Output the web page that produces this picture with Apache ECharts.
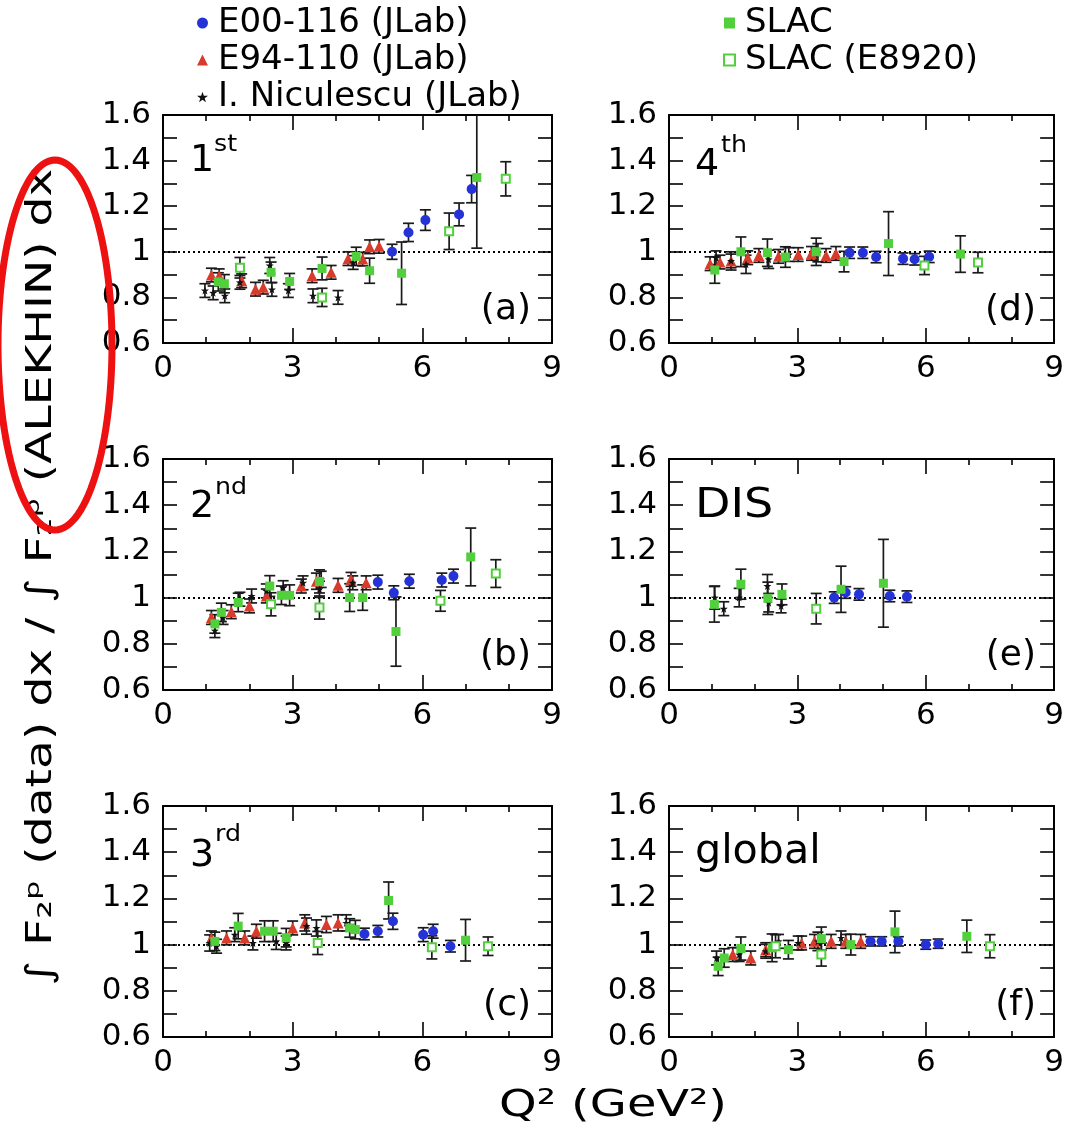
<!DOCTYPE html>
<html><head><meta charset="utf-8">
<script src="https://cdn.jsdelivr.net/npm/echarts@6/dist/echarts.min.js"></script>
<style>html,body{margin:0;padding:0;background:#fff}#c{width:1067px;height:1136px}</style>
</head><body><div id="c"></div>
<script>
// ---- tick labels / names ----
const xTicks = [0, 3, 6, 9];
const yTicks = [0.6, 0.8, 1, 1.2, 1.4, 1.6];
const setNames = ['E00-116 (JLab)', 'E94-110 (JLab)', 'I. Niculescu (JLab)', 'SLAC', 'SLAC (E8920)'];
const panelTitles = [['1', 'st'], ['2', 'nd'], ['3', 'rd'], ['4', 'th'], ['DIS', ''], ['global', '']];
const panelTags = ['(a)', '(b)', '(c)', '(d)', '(e)', '(f)'];
const xTitle = 'Q² (GeV²)';
const yTitle = '∫ F₂ᵖ (data) dx / ∫ F₂ᵖ (ALEKHIN) dx';

// ---- data: [Q2, ratio, error] ----
// panel (a) 1st
const a_E00 = [[5.30,1.000,0.033],[5.68,1.085,0.04],[6.07,1.139,0.045],[6.85,1.164,0.05],[7.14,1.275,0.06]];
const a_E94 = [[1.12,0.898,0.03],[1.30,0.895,0.03],[1.82,0.873,0.03],[2.14,0.836,0.03],[2.32,0.845,0.03],[3.45,0.895,0.03],[3.89,0.910,0.03],[4.28,0.970,0.03],[4.62,0.968,0.03],[4.78,1.022,0.03],[5.00,1.024,0.03]];
const a_Nic = [[0.97,0.830,0.03],[1.16,0.820,0.03],[1.43,0.807,0.03],[1.78,0.866,0.03],[2.47,0.940,0.035],[2.52,0.835,0.03],[2.90,0.830,0.03],[3.47,0.807,0.03],[4.05,0.800,0.03],[4.40,0.953,0.03]];
const a_SLAC = [[1.28,0.868,0.04],[1.42,0.860,0.04],[2.50,0.910,0.045],[2.93,0.870,0.035],[3.68,0.927,0.05],[4.47,0.980,0.04],[4.78,0.917,0.055],[5.52,0.906,0.137],[7.26,1.326,0.31]];
const a_E8920 = [[1.78,0.930,0.045],[3.68,0.800,0.04],[6.62,1.090,0.08],[7.93,1.320,0.075]];
// panel (b) 2nd
const b_E00 = [[4.97,1.067,0.03],[5.34,1.021,0.03],[5.70,1.071,0.03],[6.45,1.076,0.03],[6.72,1.093,0.03]];
const b_E94 = [[1.12,0.914,0.03],[1.58,0.939,0.03],[2.00,0.964,0.03],[2.39,1.007,0.03],[3.20,1.050,0.03],[3.55,1.071,0.035],[4.05,1.053,0.03],[4.35,1.079,0.03],[4.70,1.064,0.03]];
const b_Nic = [[1.20,0.857,0.03],[1.39,0.914,0.03],[1.78,0.993,0.03],[2.05,1.007,0.03],[2.39,1.029,0.03],[2.78,1.043,0.03],[3.24,1.064,0.03],[3.62,1.036,0.035],[3.66,1.079,0.035],[4.39,1.064,0.03]];
const b_SLAC = [[1.20,0.886,0.04],[1.35,0.936,0.04],[1.74,0.979,0.04],[2.47,1.050,0.045],[2.74,1.010,0.04],[2.93,1.010,0.045],[3.62,1.070,0.05],[4.32,1.000,0.06],[4.62,1.000,0.055],[5.39,0.853,0.15],[7.12,1.176,0.125]];
const b_E8920 = [[2.50,0.971,0.05],[3.62,0.957,0.05],[6.42,0.986,0.045],[7.70,1.104,0.06]];
// panel (c) 3rd
const c_E00 = [[4.66,1.046,0.025],[4.97,1.058,0.025],[5.32,1.101,0.035],[6.02,1.043,0.03],[6.25,1.058,0.03],[6.65,0.993,0.025]];
const c_E94 = [[1.12,1.029,0.03],[1.47,1.029,0.03],[1.89,1.029,0.03],[2.16,1.058,0.03],[3.00,1.072,0.03],[3.28,1.094,0.035],[3.78,1.087,0.035],[4.05,1.094,0.035]];
const c_Nic = [[1.08,1.007,0.035],[1.24,0.993,0.03],[1.66,1.043,0.03],[2.08,1.007,0.03],[2.62,1.014,0.035],[2.85,1.007,0.03],[3.32,1.080,0.035],[3.55,1.072,0.035],[4.24,1.094,0.035]];
const c_SLAC = [[1.20,1.014,0.04],[1.74,1.080,0.055],[2.35,1.058,0.045],[2.55,1.058,0.045],[2.85,1.030,0.04],[4.32,1.072,0.04],[4.45,1.065,0.04],[5.22,1.191,0.08],[7.00,1.019,0.09]];
const c_E8920 = [[3.58,1.007,0.05],[6.22,0.988,0.05],[7.52,0.993,0.04]];
// panel (d) 4th
const d_E00 = [[4.22,0.996,0.025],[4.53,0.996,0.025],[4.84,0.977,0.025],[5.47,0.970,0.025],[5.74,0.967,0.025],[6.08,0.978,0.025]];
const d_E94 = [[0.96,0.948,0.03],[1.19,0.955,0.03],[1.45,0.960,0.03],[1.84,0.974,0.03],[2.10,0.984,0.03],[2.56,0.980,0.03],[3.02,0.988,0.03],[3.33,0.993,0.03],[3.67,0.984,0.03],[3.90,0.993,0.03]];
const d_Nic = [[1.10,0.974,0.03],[1.45,0.960,0.04],[1.80,0.945,0.04],[2.33,0.967,0.04],[2.80,0.988,0.03],[3.48,0.996,0.04]];
const d_SLAC = [[1.07,0.920,0.058],[1.68,1.000,0.065],[2.30,0.996,0.06],[2.72,0.977,0.045],[3.44,1.000,0.06],[4.09,0.957,0.045],[5.13,1.036,0.14],[6.81,0.990,0.08]];
const d_E8920 = [[5.97,0.940,0.04],[7.22,0.953,0.045]];
// panel (e) DIS
const e_E00 = [[3.86,1.000,0.025],[4.13,1.022,0.025],[4.44,1.014,0.025],[5.16,1.007,0.025],[5.56,1.004,0.025]];
const e_E94 = [];
const e_Nic = [[1.07,1.000,0.05],[1.28,0.952,0.03],[1.64,1.000,0.04],[2.30,1.050,0.05],[2.33,0.978,0.04],[2.62,0.964,0.03]];
const e_SLAC = [[1.06,0.971,0.077],[1.68,1.058,0.065],[2.31,0.997,0.07],[2.64,1.014,0.045],[4.02,1.036,0.1],[5.01,1.062,0.19]];
const e_E8920 = [[3.44,0.952,0.066]];
// panel (f) global
const f_E00 = [[4.71,1.014,0.02],[4.97,1.014,0.02],[5.36,1.014,0.02],[6.00,1.000,0.02],[6.29,1.004,0.02]];
const f_E94 = [[1.49,0.957,0.03],[1.91,0.942,0.03],[2.26,0.978,0.03],[3.10,1.007,0.03],[3.40,1.014,0.03],[3.79,1.014,0.03],[4.13,1.014,0.03],[4.48,1.014,0.03]];
const f_Nic = [[1.11,0.942,0.03],[1.64,0.957,0.03],[2.26,0.971,0.03],[2.56,1.014,0.03],[3.02,1.007,0.03],[3.48,1.014,0.04],[4.02,1.029,0.03]];
const f_SLAC = [[1.15,0.906,0.04],[1.29,0.942,0.04],[1.68,0.983,0.05],[2.41,0.986,0.06],[2.79,0.978,0.04],[3.56,1.026,0.05],[4.25,1.000,0.045],[5.28,1.055,0.09],[6.96,1.036,0.07]];
const f_E8920 = [[2.49,0.993,0.05],[3.56,0.957,0.05],[7.50,0.993,0.05]];

const panelData = [
  [a_E00, a_E94, a_Nic, a_SLAC, a_E8920],
  [b_E00, b_E94, b_Nic, b_SLAC, b_E8920],
  [c_E00, c_E94, c_Nic, c_SLAC, c_E8920],
  [d_E00, d_E94, d_Nic, d_SLAC, d_E8920],
  [e_E00, e_E94, e_Nic, e_SLAC, e_E8920],
  [f_E00, f_E94, f_Nic, f_SLAC, f_E8920]
];

// ---- layout & style ----
const FONT = 'DejaVu Sans';
const colX = [163, 669];
const rowY = [[115, 228], [459, 231], [806, 231]];
const PW = 389;
const gridRects = [
  {left: colX[0], top: rowY[0][0], h: rowY[0][1]},
  {left: colX[0], top: rowY[1][0], h: rowY[1][1]},
  {left: colX[0], top: rowY[2][0], h: rowY[2][1]},
  {left: colX[1], top: rowY[0][0], h: rowY[0][1]},
  {left: colX[1], top: rowY[1][0], h: rowY[1][1]},
  {left: colX[1], top: rowY[2][0], h: rowY[2][1]}
];
const GREEN = '#52cf3c';
const STAR = 'path://M0,-10 L2.35,-3.24 L9.51,-3.09 L3.8,1.24 L5.88,8.09 L0,4 L-5.88,8.09 L-3.8,1.24 L-9.51,-3.09 L-2.35,-3.24 Z';
const setStyles = [
  {symbol: 'circle', size: 10, item: {color: '#2533d6'}},
  {symbol: 'triangle', size: 11, item: {color: '#d83a2b'}},
  {symbol: STAR, size: 8, item: {color: '#111'}},
  {symbol: 'rect', size: 9, item: {color: GREEN}},
  {symbol: 'rect', size: 8, item: {color: '#fff', borderColor: GREEN, borderWidth: 2}}
];

const grids = gridRects.map(g => ({left: g.left, top: g.top, width: PW, height: g.h, containLabel: false}));

const xAxes = [], yAxes = [];
gridRects.forEach((g, gi) => {
  ['bottom', 'top'].forEach(pos => {
    xAxes.push({
      type: 'value', gridIndex: gi, position: pos, min: xTicks[0], max: xTicks[xTicks.length - 1], interval: 3,
      axisLine: {show: true, onZero: false, lineStyle: {color: '#000', width: 2}},
      axisTick: {show: true, inside: true, length: 15, lineStyle: {color: '#000', width: 1.6}},
      minorTick: {show: true, splitNumber: 3, length: 6, lineStyle: {color: '#000', width: 1.6}},
      axisLabel: {show: pos === 'bottom', fontSize: 31, fontFamily: FONT, color: '#000', margin: 10},
      splitLine: {show: false}, minorSplitLine: {show: false}
    });
  });
  ['left', 'right'].forEach(pos => {
    yAxes.push({
      type: 'value', gridIndex: gi, position: pos, min: yTicks[0], max: yTicks[yTicks.length - 1], interval: 0.2,
      axisLine: {show: true, onZero: false, lineStyle: {color: '#000', width: 2}},
      axisTick: {show: true, inside: true, length: 14, lineStyle: {color: '#000', width: 1.6}},
      minorTick: {show: true, splitNumber: 2, length: 14, lineStyle: {color: '#000', width: 1.6}},
      axisLabel: {show: pos === 'left', fontSize: 31, fontFamily: FONT, color: '#000', margin: 12,
        formatter: v => String(Math.round(v * 10) / 10)},
      splitLine: {show: false}, minorSplitLine: {show: false}
    });
  });
});

function errRender(params, api) {
  const x = api.value(0), y = api.value(1), e = api.value(2);
  const cs = params.coordSys;
  const px = api.coord([x, y])[0];
  const top = api.coord([x, y + e])[1];
  const bot = api.coord([x, y - e])[1];
  const yT = cs.y, yB = cs.y + cs.height;
  const st = {stroke: '#1a1a1a', lineWidth: 1.7};
  const cw = 5.5;
  const ch = [{type: 'line', shape: {x1: px, y1: Math.max(top, yT), x2: px, y2: Math.min(bot, yB)}, style: st}];
  if (top >= yT) ch.push({type: 'line', shape: {x1: px - cw, y1: top, x2: px + cw, y2: top}, style: st});
  if (bot <= yB) ch.push({type: 'line', shape: {x1: px - cw, y1: bot, x2: px + cw, y2: bot}, style: st});
  return {type: 'group', children: ch};
}

const series = [];
panelData.forEach((sets, gi) => {
  sets.forEach((arr, si) => {
    series.push({
      type: 'custom', name: setNames[si] + ' err', xAxisIndex: gi * 2, yAxisIndex: gi * 2,
      data: arr, renderItem: errRender, z: 2, silent: true
    });
  });
  sets.forEach((arr, si) => {
    const s = setStyles[si];
    const ser = {
      type: 'scatter', name: setNames[si], xAxisIndex: gi * 2, yAxisIndex: gi * 2,
      data: arr.map(d => [d[0], d[1]]), symbol: s.symbol, symbolSize: s.size,
      itemStyle: Object.assign({opacity: 1}, s.item), z: 3, silent: true
    };
    if (si === 0) {
      ser.markLine = {silent: true, symbol: 'none', label: {show: false}, z: 1,
        lineStyle: {type: [2, 3], color: '#000', width: 2}, data: [{yAxis: 1}]};
    }
    series.push(ser);
  });
});

// ---- annotations ----
const graphic = [];
const titlePos = [[190, 161, 214, 145], [190, 507, 215, 488], [190, 856, 215, 835], [695, 165, 721, 146], [695, 507, 0, 0], [695, 853, 0, 0]];
const titleScale = [1, 1, 1, 1, 1.15, 1.03];
panelTitles.forEach((t, i) => {
  const p = titlePos[i];
  graphic.push({type: 'text', x: p[0], y: p[1], scaleX: titleScale[i], silent: true,
    style: {text: t[0], fontSize: t[1] ? 38 : 40, fontFamily: FONT, fill: '#000', align: 'left', verticalAlign: 'middle'}});
  if (t[1]) graphic.push({type: 'text', x: p[2], y: p[3], scaleX: 1.1, silent: true,
    style: {text: t[1], fontSize: 23, fontFamily: FONT, fill: '#000', align: 'left', verticalAlign: 'middle'}});
});
const tagPos = [[531, 310], [531, 656], [531, 1006], [1036, 311], [1036, 656], [1036, 1006]];
panelTags.forEach((t, i) => {
  graphic.push({type: 'text', x: tagPos[i][0], y: tagPos[i][1], silent: true,
    style: {text: t, fontSize: 36, fontFamily: FONT, fill: '#000', align: 'right', verticalAlign: 'middle'}});
});
graphic.push({type: 'text', x: 613, y: 1106, scaleX: 1.26, silent: true,
  style: {text: xTitle, fontSize: 38, fontFamily: FONT, fill: '#000', align: 'center', verticalAlign: 'middle'}});
graphic.push({type: 'text', x: 42, y: 577, rotation: Math.PI / 2, scaleX: 1.31, silent: true,
  style: {text: yTitle, fontSize: 36, fontFamily: FONT, fill: '#000', align: 'center', verticalAlign: 'middle'}});
// red highlight ellipse
const ell = [];
for (let k = 0; k <= 120; k++) {
  const t = k / 120 * Math.PI * 2;
  ell.push([55 + 57 * Math.cos(t), 345 + 185 * Math.sin(t)]);
}
graphic.push({type: 'polyline', silent: true, shape: {points: ell},
  style: {stroke: '#ee1111', lineWidth: 7, fill: null}, z: 100});

const legendCommon = {
  orient: 'vertical', selectedMode: false, itemWidth: 11, itemHeight: 11, itemGap: 3,
  textStyle: {fontSize: 34, fontFamily: FONT, color: '#000', padding: [0, 0, 0, 5]},
  padding: 0
};
const legend = [
  Object.assign({}, legendCommon, {left: 197, top: 6, data: setNames.slice(0, 3)}),
  Object.assign({}, legendCommon, {left: 723, top: 6, data: setNames.slice(3)})
];

const chart = echarts.init(document.getElementById('c'), null, {renderer: 'canvas'});
chart.setOption({
  backgroundColor: '#fff', animation: false,
  grid: grids, xAxis: xAxes, yAxis: yAxes, series: series, legend: legend, graphic: graphic
});
</script></body></html>
